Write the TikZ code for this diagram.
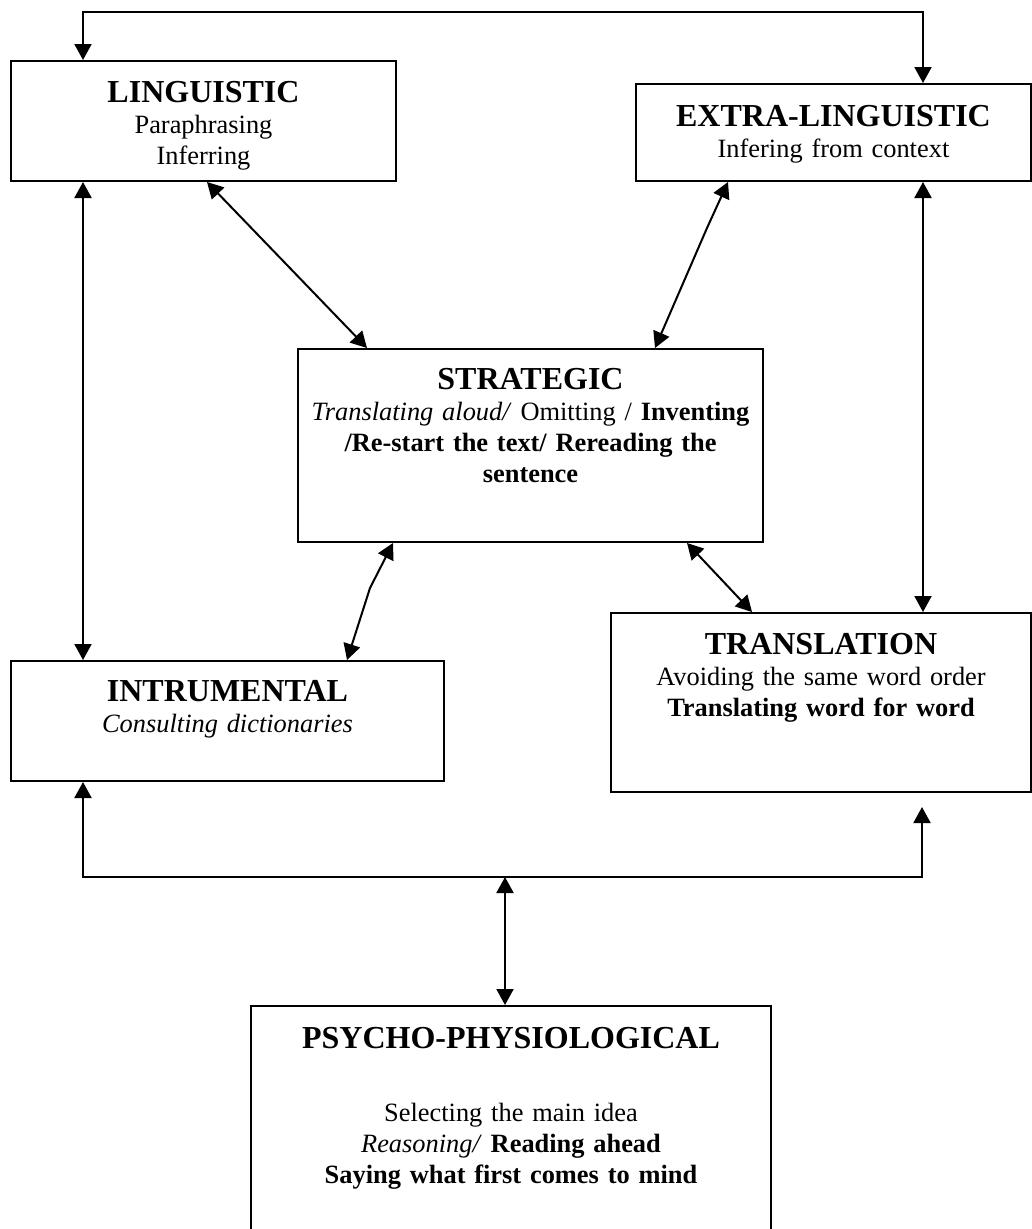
\documentclass[tikz,border=0pt]{standalone}
\usepackage{fontspec}
\setmainfont{Liberation Serif}
\usepackage{tikz}
\usetikzlibrary{positioning,arrows.meta}

\newcommand{\boxtitle}[1]{{\fontsize{32}{31}\selectfont\bfseries #1}}

\tikzset{
  box/.style={draw, line width=2pt, anchor=north west, inner sep=0pt, align=center,
    font=\fontsize{26.4}{31}\selectfont},
  link/.style={line width=2pt, {Triangle[length=16pt,width=17pt]}-{Triangle[length=16pt,width=17pt]}}
}

\begin{document}
\begin{tikzpicture}[x=1pt,y=-1pt]
\useasboundingbox (0,0) rectangle (1032,1229);
% boxes
\node[box, text width=385pt, text height=41pt, text depth=79pt] (ling) at (10,60)
  {\boxtitle{LINGUISTIC}\\ Paraphrasing\\ Inferring};
\node[box, text width=395pt, text height=42pt, text depth=55pt] (extra) at (635,83)
  {\boxtitle{EXTRA-LINGUISTIC}\\ Infering from context};
\node[box, text width=465pt, text height=40pt, text depth=153pt] (strat) at (297,348)
  {\boxtitle{STRATEGIC}\\ \textit{Translating aloud/} Omitting / \textbf{Inventing}\\
   \textbf{/Re-start the text/ Rereading the}\\ \textbf{sentence}};
\node[box, text width=433pt, text height=40pt, text depth=80pt] (instr) at (10,660)
  {\boxtitle{INTRUMENTAL}\\ \textit{Consulting dictionaries}};
\node[box, text width=420pt, text height=41pt, text depth=138pt] (trans) at (610,612)
  {\boxtitle{TRANSLATION}\\ Avoiding the same word order\\ \textbf{Translating word for word}};
\node[box, text width=520pt, text height=42pt, text depth=258pt] (psy) at (250,1005)
  {\boxtitle{PSYCHO-PHYSIOLOGICAL}\\[42pt] Selecting the main idea\\
   \textit{Reasoning/} \textbf{Reading ahead}\\ \textbf{Saying what first comes to mind}};
% bends
\coordinate (tl) at (83,12);
\coordinate (tr) at (923,12);
\coordinate (bl) at (83,877);
\coordinate (br) at (922,877);
\coordinate (bm) at (505,877);
\coordinate (k1) at (707,228);
\coordinate (k2) at (370,588);
% links
\draw[link] (ling.north -| tl) -- (tl) -- (tr) -- (extra.north -| tr);
\draw[link] (ling.south -| tl) -- (instr.north -| tl);
\draw[link] (extra.south -| tr) -- (trans.north -| tr);
\draw[link] ([xshift=197pt]ling.south west) -- ([xshift=70pt]strat.north west);
\draw[link] ([xshift=93pt]extra.south west) -- (k1) -- ([xshift=358pt]strat.north west);
\draw[link] ([xshift=96pt]strat.south west) -- (k2) -- ([xshift=337pt]instr.north west);
\draw[link] ([xshift=390pt]strat.south west) -- ([xshift=142pt]trans.north west);
\draw[link] (instr.south -| bl) -- (bl) -- (br) -- ([yshift=-14pt]trans.south -| br);
\draw[link] (bm) -- (psy.north -| bm);
\end{tikzpicture}
\end{document}
